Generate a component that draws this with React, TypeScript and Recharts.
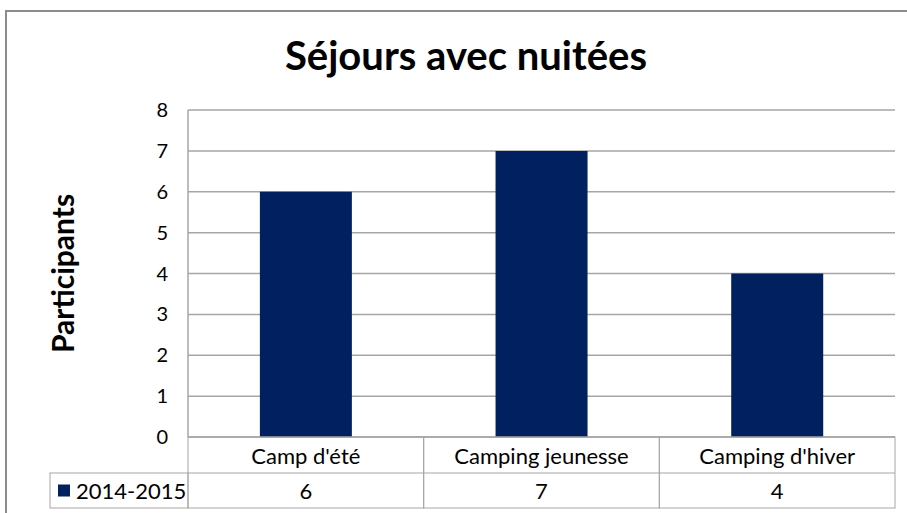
import React from "react";
import { BarChart, Bar, XAxis, YAxis, CartesianGrid, Label } from "recharts";

const categories = ["Camp d'été", "Camping jeunesse", "Camping d'hiver"];
const participants = [6, 7, 4];
const seriesName = "2014-2015";
const yTicks = [0, 1, 2, 3, 4, 5, 6, 7, 8];

const data = categories.map((name, i) => ({ name, value: participants[i] }));

const W = 907;
const H = 513;
const margin = { top: 110, right: 12, bottom: 0, left: 0 };
const Y_AXIS_W = 188;
const X_AXIS_H = 76;
const ROW1 = 36;
const ROW2 = 35;
const LEGEND_LEFT = 50;
const bandW = (W - margin.left - Y_AXIS_W - margin.right) / categories.length;

const FONT = "Lato, 'Open Sans', sans-serif";
const NAVY = "#002060";
const GRID = "#a6a6a6";

function TableTick(props: any) {
  const { x, payload, index } = props;
  const top = H - margin.bottom - X_AXIS_H;
  const left = x - bandW / 2;
  const value = participants[index];
  return (
    <g>
      <rect x={left} y={top} width={bandW} height={ROW1 + ROW2} fill="none" stroke={GRID} />
      <line x1={left} x2={left + bandW} y1={top + ROW1} y2={top + ROW1} stroke={GRID} />
      <text x={x} y={top + ROW1 / 2} textAnchor="middle" dominantBaseline="central" fontSize={22} fill="#000" fontFamily={FONT}>
        {payload.value}
      </text>
      <text x={x} y={top + ROW1 + ROW2 / 2} textAnchor="middle" dominantBaseline="central" fontSize={22} fill="#000" fontFamily={FONT}>
        {value}
      </text>
      {index === 0 && (
        <g>
          <rect x={LEGEND_LEFT} y={top + ROW1} width={left - LEGEND_LEFT} height={ROW2} fill="none" stroke={GRID} />
          <rect x={58} y={top + ROW1 + ROW2 / 2 - 6} width={12} height={12} fill={NAVY} />
          <text x={76} y={top + ROW1 + ROW2 / 2} dominantBaseline="central" fontSize={22} fill="#000" fontFamily={FONT}>
            {seriesName}
          </text>
        </g>
      )}
    </g>
  );
}

function YTitle(props: any) {
  const { viewBox } = props;
  const cy = viewBox.y + viewBox.height / 2;
  return (
    <text x={62} y={cy} transform={`rotate(-90, 62, ${cy})`} textAnchor="middle" dominantBaseline="central" fontSize={30} fontWeight="bold" fill="#000" fontFamily={FONT}>
      Participants
    </text>
  );
}

export default function App() {
  return (
    <div style={{ position: "absolute", left: 0, top: 0, width: W, height: H, background: "#fff" }}>
      <div style={{ position: "absolute", left: 5, top: 10, right: 0, bottom: 0, borderTop: "2px solid #8c8c8c", borderLeft: "2px solid #8c8c8c" }} />
      <div style={{ position: "absolute", left: 0, width: 932, top: 29, textAlign: "center", fontFamily: FONT, fontWeight: "bold", fontSize: 40, lineHeight: "52px", color: "#000" }}>
        Séjours avec nuitées
      </div>
      <div style={{ position: "absolute", left: 0, top: 0 }}>
        <BarChart width={W} height={H} data={data} margin={margin} barCategoryGap="30.5%">
          <CartesianGrid vertical={false} stroke={GRID} strokeWidth={1.5} />
          <XAxis
            dataKey="name"
            height={X_AXIS_H}
            axisLine={{ stroke: GRID }}
            tickLine={false}
            tickSize={0}
            tickMargin={0}
            interval={0}
            tick={<TableTick />}
          />
          <YAxis
            width={Y_AXIS_W}
            domain={[0, 8]}
            ticks={yTicks}
            interval={0}
            axisLine={{ stroke: GRID, strokeWidth: 1.5 }}
            tickLine={false}
            tickSize={0}
            tickMargin={20}
            tick={{ fill: "#000", fontSize: 20, fontFamily: FONT }}
          >
            <Label content={<YTitle />} />
          </YAxis>
          <Bar dataKey="value" fill={NAVY} isAnimationActive={false} />
        </BarChart>
      </div>
    </div>
  );
}
